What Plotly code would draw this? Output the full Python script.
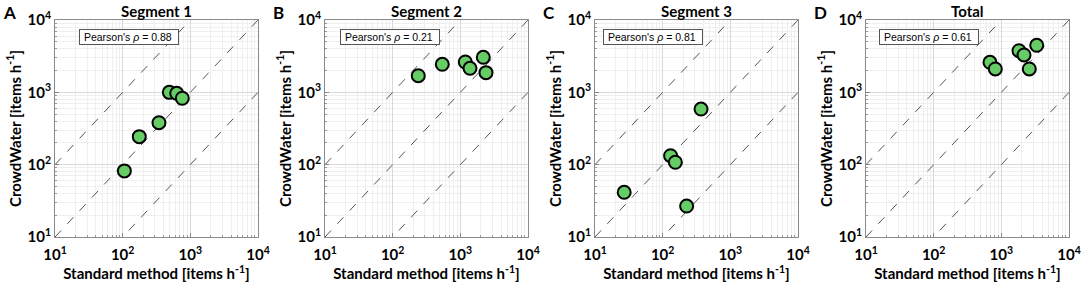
import plotly.graph_objects as go

# ---- data ----
panel_letters = ["A", "B", "C", "D"]
panel_titles = ["Segment 1", "Segment 2", "Segment 3", "Total"]
pearson = ["0.88", "0.21", "0.81", "0.61"]

std_1 = [106, 176, 344, 489, 629, 761]
cw_1 = [82, 244, 380, 1000, 970, 828]

std_2 = [239, 541, 1184, 1390, 2185, 2395]
cw_2 = [1698, 2443, 2626, 2149, 3052, 1870]

std_3 = [27, 131, 154, 226, 369]
cw_3 = [41.5, 133, 108, 26.8, 588]

std_4 = [679, 815, 1824, 2163, 2590, 3334]
cw_4 = [2602, 2103, 3764, 3284, 2103, 4470]

std_all = [std_1, std_2, std_3, std_4]
cw_all = [cw_1, cw_2, cw_3, cw_4]

ref_x = [10, 10000]
ref_factors = [10, 1, 0.1]

tick_vals = [10, 100, 1000, 10000]
tick_text = ["10<sup>1</sup>", "10<sup>2</sup>", "10<sup>3</sup>", "10<sup>4</sup>"]
minor_vals = [m * d for d in [10, 100, 1000] for m in range(2, 10)]

W, H = 1084, 292
x_left = [55, 325, 595, 866]
box_offset = [24, 15, 8, 13]
plot_w = 203
y_top, y_bot = 20, 237

FONT = "Lato"
fig = go.Figure()

for i in range(4):
    xa = "x" if i == 0 else f"x{i+1}"
    ya = "y" if i == 0 else f"y{i+1}"
    for f in ref_factors:
        fig.add_trace(go.Scatter(
            x=ref_x, y=[v * f for v in ref_x], mode="lines",
            line=dict(color="#555555", width=1, dash="dash"),
            xaxis=xa, yaxis=ya, showlegend=False, hoverinfo="skip"))
    fig.add_trace(go.Scatter(
        x=std_all[i], y=cw_all[i], mode="markers",
        marker=dict(size=13, color="#66cc66", line=dict(color="black", width=2)),
        xaxis=xa, yaxis=ya, showlegend=False))

    x0 = x_left[i] / W
    x1 = (x_left[i] + plot_w) / W
    axis_common = dict(
        type="log", range=[1, 4],
        tickvals=tick_vals, ticktext=tick_text,
        tickfont=dict(family=FONT, size=15, color="black", weight="bold"),
        showgrid=True, gridcolor="#d9d9d9", gridwidth=1,
        minor=dict(tickvals=minor_vals, showgrid=True, gridcolor="#efefef", gridwidth=1,
                   ticks="inside", ticklen=2, tickcolor="#999"),
        ticks="inside", ticklen=4, tickcolor="#888",
        showline=True, linecolor="#8a8a8a", linewidth=1, mirror=True,
        zeroline=False, automargin=False,
    )
    fig.layout[f"xaxis{'' if i == 0 else i+1}"] = dict(
        axis_common, domain=[x0, x1], anchor=ya, ticklabelstandoff=4,
        title=dict(text="Standard method [items h<sup>-1</sup>]",
                   font=dict(family=FONT, size=15, color="black", weight="bold"),
                   standoff=6),
    )
    fig.layout[f"yaxis{'' if i == 0 else i+1}"] = dict(
        axis_common, domain=[(H - y_bot) / H, (H - y_top) / H], anchor=xa,
        title=dict(text="CrowdWater [items h<sup>-1</sup>]",
                   font=dict(family=FONT, size=15, color="black", weight="bold"),
                   standoff=2),
    )
    # panel title
    fig.add_annotation(text=f"<b>{panel_titles[i]}</b>", xref="paper", yref="paper",
                       x=(x0 + x1) / 2, y=(H - 0) / H, xanchor="center", yanchor="top",
                       showarrow=False, font=dict(family=FONT, size=15, color="black"))
    # panel letter
    fig.add_annotation(text=f"<b>{panel_letters[i]}</b>", xref="paper", yref="paper",
                       x=(x_left[i] - 55 + 1) / W, y=(H - 0) / H, xanchor="left", yanchor="top",
                       showarrow=False, font=dict(family=FONT, size=17, color="black"))
    # Pearson box
    fig.add_annotation(text=f"&nbsp;Pearson's <i>ρ</i> = {pearson[i]}&nbsp;&nbsp;",
                       xref=f"{xa} domain", yref=f"{ya} domain",
                       x=box_offset[i] / plot_w,
                       y=1 - 9 / (y_bot - y_top), xanchor="left", yanchor="top",
                       showarrow=False, bgcolor="white", bordercolor="#555555",
                       borderwidth=1, borderpad=1,
                       font=dict(family="Liberation Sans", size=10.5, color="black"))

fig.update_layout(
    width=W, height=H, margin=dict(l=0, r=0, t=0, b=0, autoexpand=False),
    paper_bgcolor="white", plot_bgcolor="white",
)

fig.write_html("out.html", config={"displayModeBar": False},
               post_script="document.body.style.margin='0';")
